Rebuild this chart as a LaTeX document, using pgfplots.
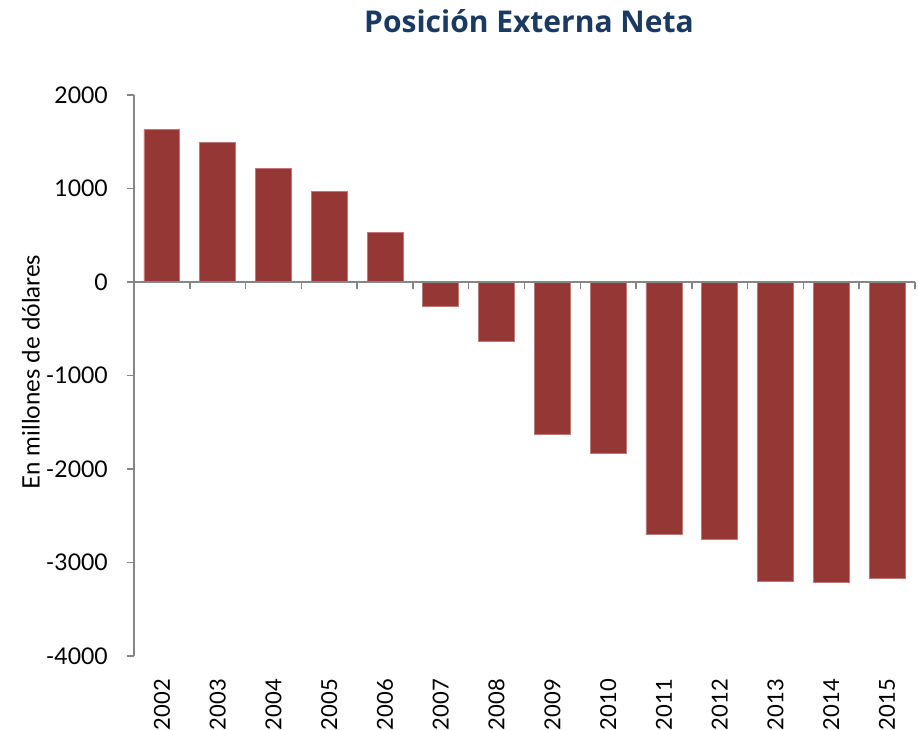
\documentclass[border=0pt]{standalone}
\usepackage{fontspec}
\setmainfont{Lato}
\newfontfamily\titlefont{Open Sans}
\usepackage{pgfplots}
\pgfplotsset{compat=1.18}
\definecolor{barred}{HTML}{953735}
\definecolor{baredge}{HTML}{C07876}
\definecolor{axgray}{HTML}{868686}
\definecolor{titleblue}{HTML}{1B3A62}
\begin{document}
\begin{tikzpicture}
\useasboundingbox (0,0) rectangle (918pt,-729pt);
\fill[white] (0,0) rectangle (918pt,-729pt);
\node[anchor=base, text=titleblue, font=\titlefont\fontsize{30}{34}\selectfont\bfseries]
  at (529pt,-32pt) {Posición Externa Neta};
\node[rotate=90, anchor=center, font=\fontsize{24}{28}\selectfont]
  at (31pt,-372pt) {En millones de dólares};
\begin{axis}[
  at={(134pt,-656pt)}, anchor=south west,
  scale only axis, width=781pt, height=561pt,
  xmin=-0.5, xmax=13.5, ymin=-4000, ymax=2000,
  clip=false,
  axis y line*=left,
  axis x line*=bottom,
  x axis line style={draw=none},
  y axis line style={axgray, line width=1.5pt},
  ytick={-4000,-3000,-2000,-1000,0,1000,2000},
  yticklabels={-4000,-3000,-2000,-1000,0,1000,2000},
  ytick style={axgray, line width=1.5pt},
  tick align=outside,
  major tick length=7pt,
  yticklabel style={font=\fontsize{23}{27}\selectfont, inner sep=0pt, xshift=-19pt},
  xtick={0,...,13},
  xticklabels={2002,2003,2004,2005,2006,2007,2008,2009,2010,2011,2012,2013,2014,2015},
  xtick style={draw=none},
  xticklabel style={font=\fontsize{22}{26}\selectfont, rotate=90, anchor=east, inner sep=0pt},
  xticklabel shift=16pt,
]
\addplot[ybar, bar width=0.645, fill=barred, draw=baredge, line width=0.8pt]
  coordinates {(0,1636) (1,1490) (2,1216) (3,973) (4,531) (5,-257) (6,-631)
               (7,-1629) (8,-1836) (9,-2699) (10,-2756) (11,-3198) (12,-3216) (13,-3173)};
\draw[axgray, line width=1.5pt] (axis cs:-0.5,0) -- (axis cs:13.5,0);
\pgfplotsinvokeforeach{-0.5,0.5,1.5,2.5,3.5,4.5,5.5,6.5,7.5,8.5,9.5,10.5,11.5,12.5,13.5}{
  \draw[axgray, line width=1.5pt] (axis cs:#1,0) -- (axis cs:#1,-75);
}
\end{axis}
\end{tikzpicture}
\end{document}
